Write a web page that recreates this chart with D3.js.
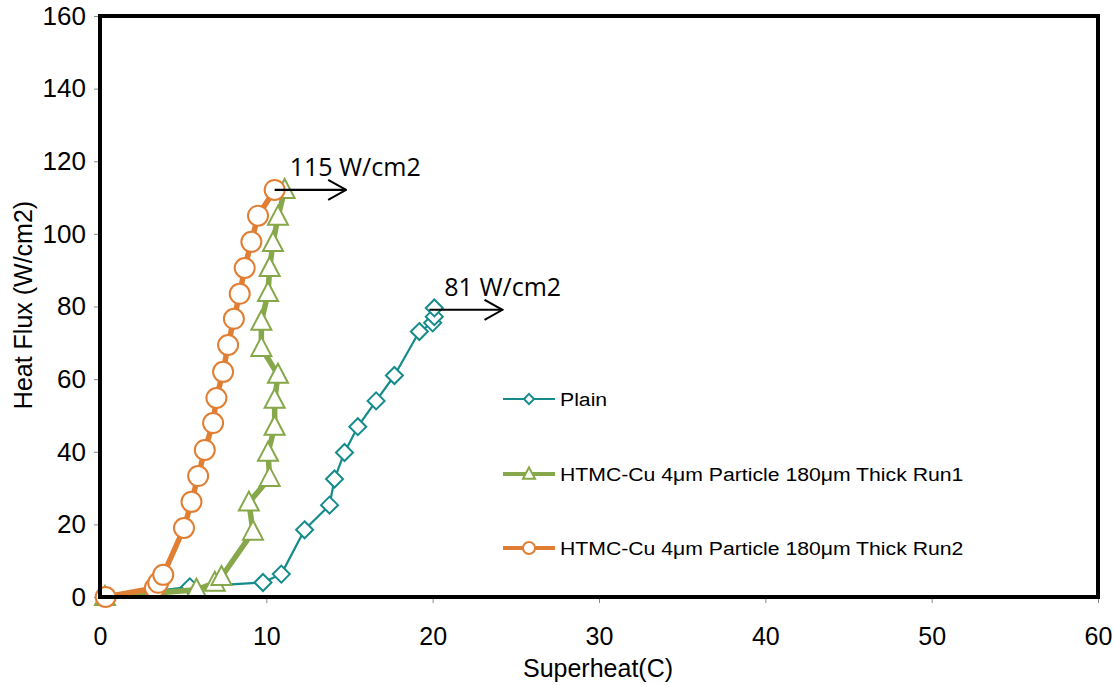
<!DOCTYPE html>
<html><head><meta charset="utf-8">
<script src="https://cdn.jsdelivr.net/npm/d3@7"></script>
<style>body{margin:0;background:#fff}svg{display:block}</style>
</head><body>
<svg id="c" width="1114" height="685"></svg>
<script>
const xTicks = [0,10,20,30,40,50,60];
const yTicks = [0,20,40,60,80,100,120,140,160];
const seriesNames = ["Plain","HTMC-Cu 4μm Particle 180μm Thick Run1","HTMC-Cu 4μm Particle 180μm Thick Run2"];
const plainX = [0.3,5.4,9.8,10.9,12.3,13.8,14.1,14.7,15.5,16.6,17.7,19.2,20.0,20.1,20.1];
const plainY = [0,2.8,4.0,6.3,18.5,25.3,32.5,39.8,46.9,54.0,61.0,73.1,75.5,77.2,79.6];
const run1X = [0.3,5.8,6.9,7.3,9.2,8.95,10.2,10.1,10.5,10.5,10.7,9.7,9.7,10.1,10.2,10.4,10.7,11.1];
const run1Y = [0,2.0,3.9,5.5,18.0,26.0,32.8,39.7,46.9,54.3,61.2,68.6,75.8,83.7,90.6,97.5,104.7,112.1];
const run2X = [0.34,3.3,3.5,3.8,5.05,5.5,5.9,6.3,6.8,7.0,7.4,7.7,8.05,8.4,8.7,9.1,9.5,10.5];
const run2Y = [0,2.5,3.9,6.1,19.0,26.2,33.3,40.5,47.9,54.8,62.0,69.4,76.6,83.5,90.6,97.8,105.0,112.1];
const annotations = [{text:"115 W/cm2", x:10.5, y:112.1, x2:14.8}, {text:"81 W/cm2", x:19.8, y:79.1, x2:24.2}];

const svg = d3.select("#c");
const L=100,R=1098,T=16,B=597;
const x = d3.scaleLinear().domain([0,60]).range([L,R]);
const y = d3.scaleLinear().domain([0,160]).range([B,T]);

const colors = ["#168b8b","#86a84a","#e07f34"];
const widths = [2.2,5.5,5.5];
const FONT = "Liberation Sans, Arial, sans-serif";

// ticks
svg.append("g").attr("transform",`translate(0,${B})`)
  .call(d3.axisBottom(x).tickValues(xTicks).tickSize(6).tickPadding(24))
  .call(g=>{g.select(".domain").remove();g.selectAll("line").attr("stroke","#888");
    g.selectAll("text").attr("font-family",FONT).attr("font-size",25).attr("fill","#000");});
svg.append("g").attr("transform",`translate(${L},0)`)
  .call(d3.axisLeft(y).tickValues(yTicks).tickSize(6).tickPadding(8))
  .call(g=>{g.select(".domain").remove();g.selectAll("line").attr("stroke","#888");
    g.selectAll("text").attr("font-family",FONT).attr("font-size",26).attr("fill","#000");});

// axis titles
svg.append("text").attr("x",598).attr("y",677).attr("text-anchor","middle")
  .attr("font-family",FONT).attr("font-size",25).text("Superheat(C)");
svg.append("text").attr("transform","translate(32,305) rotate(-90)").attr("text-anchor","middle")
  .attr("font-family",FONT).attr("font-size",25).text("Heat Flux (W/cm2)");

const data = [d3.zip(plainX,plainY), d3.zip(run1X,run1Y), d3.zip(run2X,run2Y)];
const line = d3.line().x(d=>x(d[0])).y(d=>y(d[1]));

function marker(g, i, cx, cy, s){
  if(i===0){
    const h=8.5*s;
    g.append("path").attr("d",`M${cx},${cy-h}L${cx+h},${cy}L${cx},${cy+h}L${cx-h},${cy}Z`)
      .attr("fill","#fff").attr("stroke",colors[0]).attr("stroke-width",2);
  } else if(i===1){
    g.append("path").attr("d",`M${cx},${cy-11*s}L${cx+10*s},${cy+8*s}L${cx-10*s},${cy+8*s}Z`)
      .attr("fill","#fff").attr("stroke",colors[1]).attr("stroke-width",2);
  } else {
    g.append("circle").attr("cx",cx).attr("cy",cy).attr("r",10*s)
      .attr("fill","#fff").attr("stroke",colors[2]).attr("stroke-width",2);
  }
}

[0,1,2].forEach(i=>{
  const g = svg.append("g");
  g.append("path").datum(data[i]).attr("d",line).attr("fill","none")
    .attr("stroke",colors[i]).attr("stroke-width",widths[i]).attr("stroke-linejoin","round");
  data[i].forEach(d=>marker(g,i,x(d[0]),y(d[1]),1));
});

// frame
svg.append("rect").attr("x",L).attr("y",T).attr("width",R-L).attr("height",B-T)
  .attr("fill","none").attr("stroke","#000").attr("stroke-width",4);

// annotations
svg.append("defs").append("marker").attr("id","arr").attr("viewBox","0 0 20 22")
  .attr("refX",19).attr("refY",11).attr("markerWidth",20).attr("markerHeight",22)
  .attr("markerUnits","userSpaceOnUse").attr("orient","auto")
  .append("path").attr("d","M1,1L19,11L1,21").attr("fill","none").attr("stroke","#000").attr("stroke-width",2);
annotations.forEach(a=>{
  svg.append("line").attr("x1",x(a.x)).attr("y1",y(a.y)).attr("x2",x(a.x2)).attr("y2",y(a.y))
    .attr("stroke","#000").attr("stroke-width",2.2).attr("marker-end","url(#arr)");
  svg.append("text").attr("x",x(a.x)+15).attr("y",y(a.y)-14)
    .attr("font-family","Open Sans, Noto Sans").attr("font-size",25).text(a.text);
});

// legend
const legY = [399,474,548];
seriesNames.forEach((n,i)=>{
  const g = svg.append("g");
  g.append("line").attr("x1",503).attr("x2",555).attr("y1",legY[i]).attr("y2",legY[i])
    .attr("stroke",colors[i]).attr("stroke-width",i===0?2.2:4);
  marker(g,i,529,legY[i],0.6);
  g.append("text").attr("transform",`translate(560,${legY[i]+7}) scale(1.116,1)`)
    .attr("font-family",FONT).attr("font-size",19).text(n);
});
</script>
</body></html>
